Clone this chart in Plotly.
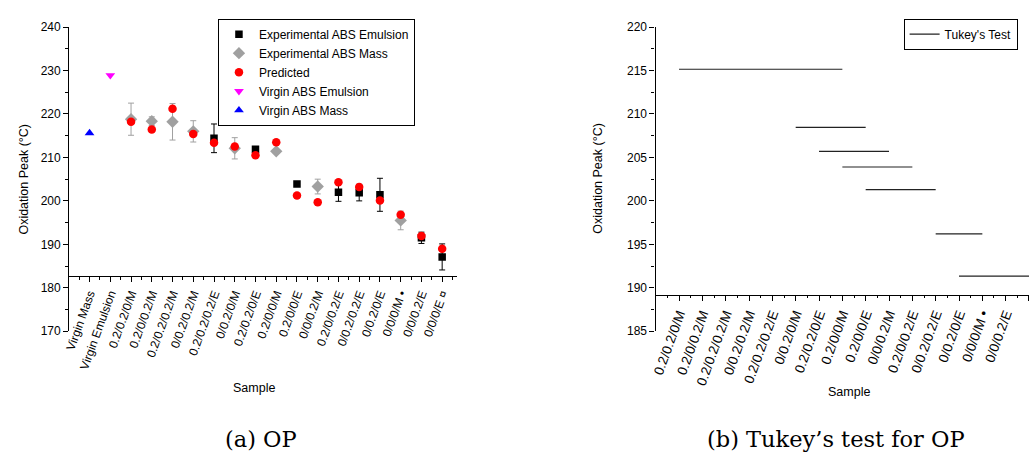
import plotly.graph_objects as go

W, H = 1029, 465

# ---------------- data (panel a) ----------------
categories_a = ["Virgin Mass", "Virgin Emulsion", "0.2/0.2/0/M", "0.2/0/0.2/M",
                "0.2/0.2/0.2/M", "0/0.2/0.2/M", "0.2/0.2/0.2/E", "0/0.2/0/M",
                "0.2/0.2/0/E", "0.2/0/0/M", "0.2/0/0/E", "0/0/0.2/M",
                "0.2/0/0.2/E", "0/0.2/0.2/E", "0/0.2/0/E", "0/0/0/M \u2022",
                "0/0/0.2/E", "0/0/0/E \u00a4"]

emulsion_samples = ["0.2/0.2/0.2/E", "0.2/0.2/0/E", "0.2/0/0/E", "0.2/0/0.2/E",
                    "0/0.2/0.2/E", "0/0.2/0/E", "0/0/0.2/E", "0/0/0/E \u00a4"]
emulsion_values = [214.4, 211.9, 203.9, 202.0, 201.9, 201.4, 191.5, 187.1]
emulsion_errors = [3.3, 0.5, 0.4, 2.1, 1.9, 3.8, 1.3, 3.0]

mass_samples = ["0.2/0.2/0/M", "0.2/0/0.2/M", "0.2/0.2/0.2/M", "0/0.2/0.2/M",
                "0/0.2/0/M", "0.2/0/0/M", "0/0/0.2/M", "0/0/0/M \u2022"]
mass_values = [218.8, 218.35, 218.2, 216.0, 212.1, 211.4, 203.3, 195.5]
mass_errors = [3.7, 1.0, 4.2, 2.45, 2.45, 0.5, 1.7, 2.15]

predicted_samples = categories_a[2:]
predicted_values = [218.2, 216.4, 221.2, 215.4, 213.4, 212.5, 210.5, 213.5,
                    201.25, 199.7, 204.3, 203.2, 200.1, 196.8, 191.9, 189.0]

virgin_emulsion_value = [228.9]
virgin_mass_value = [215.6]

# ---------------- data (panel b) ----------------
categories_b = categories_a[2:]
tukey_start = ["0.2/0.2/0/M", "0/0.2/0/M", "0.2/0.2/0/E", "0.2/0/0/M",
               "0.2/0/0/E", "0/0.2/0.2/E", "0/0.2/0/E"]
tukey_end = ["0.2/0/0/M", "0.2/0/0/E", "0/0/0.2/M", "0.2/0/0.2/E",
             "0/0.2/0.2/E", "0/0/0/M \u2022", "0/0/0/E \u00a4"]
tukey_values = [215.15, 208.45, 205.7, 203.9, 201.3, 196.2, 191.35]

# ---------------- helpers ----------------
pos_a = {c: i + 1 for i, c in enumerate(categories_a)}
pos_b = {c: i + 1 for i, c in enumerate(categories_b)}
FONT = "Liberation Sans, Arial, sans-serif"
SERIF = "DejaVu Serif, serif"
GREY = "#a0a0a0"


def px_x(p):
    return p / W


def px_y(p):
    return (H - p) / H


fig = go.Figure()

fig.add_trace(go.Scatter(
    x=[pos_a[s] for s in emulsion_samples], y=emulsion_values,
    mode="markers", name="Experimental ABS Emulsion",
    marker=dict(symbol="square", color="black", size=7.5),
    error_y=dict(type="data", array=emulsion_errors, color="black",
                 thickness=1, width=3),
    xaxis="x", yaxis="y", legend="legend"))

fig.add_trace(go.Scatter(
    x=[pos_a[s] for s in mass_samples], y=mass_values,
    mode="markers", name="Experimental ABS Mass",
    marker=dict(symbol="diamond", color=GREY, size=9.5),
    error_y=dict(type="data", array=mass_errors, color=GREY,
                 thickness=1, width=3),
    xaxis="x", yaxis="y", legend="legend"))

fig.add_trace(go.Scatter(
    x=[pos_a[s] for s in predicted_samples], y=predicted_values,
    mode="markers", name="Predicted",
    marker=dict(symbol="circle", color="red", size=8.5),
    xaxis="x", yaxis="y", legend="legend"))

fig.add_trace(go.Scatter(
    x=[pos_a["Virgin Emulsion"]], y=virgin_emulsion_value,
    mode="markers", name="Virgin ABS Emulsion",
    marker=dict(symbol="triangle-down", color="#ff00ff", size=8.5),
    xaxis="x", yaxis="y", legend="legend"))

fig.add_trace(go.Scatter(
    x=[pos_a["Virgin Mass"]], y=virgin_mass_value,
    mode="markers", name="Virgin ABS Mass",
    marker=dict(symbol="triangle-up", color="blue", size=8.5),
    xaxis="x", yaxis="y", legend="legend"))

for i, (s, e, v) in enumerate(zip(tukey_start, tukey_end, tukey_values)):
    fig.add_trace(go.Scatter(
        x=[pos_b[s], pos_b[e]], y=[v, v], mode="lines",
        name="Tukey's Test", showlegend=(i == 0),
        line=dict(color="#222222", width=1.2),
        xaxis="x2", yaxis="y2", legend="legend2"))

# ---------------- axes ----------------
ya_dom = [px_y(334.3), px_y(20.7)]
xa_dom = [px_x(63.5), px_x(453.9)]
xb_dom = [px_x(652.7), 1.0]

common_ax = dict(showline=True, linecolor="black", linewidth=1.2,
                 showgrid=False, zeroline=False, ticks="outside",
                 tickcolor="black", tickwidth=1)

fig.update_layout(
    xaxis=dict(domain=xa_dom, range=[-0.03, 18.7], anchor="free",
               position=px_y(277.3), tickvals=list(pos_a.values()),
               ticktext=categories_a, tickangle=-70, ticklen=5,
               tickfont=dict(family=FONT, size=12, color="black"),
               minor=dict(tickvals=[i + 0.5 for i in range(0, 19)],
                          ticks="outside", ticklen=2.5, tickcolor="black"),
               **common_ax),
    yaxis=dict(domain=ya_dom, range=[170, 240], anchor="free",
               position=xa_dom[0], dtick=10, ticklen=5,
               tickfont=dict(family=FONT, size=12, color="black"),
               minor=dict(dtick=5, ticks="outside", ticklen=3,
                          tickcolor="black"),
               **common_ax),
    xaxis2=dict(domain=xb_dom, range=[-0.05, 16.0], anchor="free",
                position=px_y(296.7), tickvals=list(pos_b.values()),
                ticktext=categories_b, tickangle=-70, ticklen=5,
                tickfont=dict(family=FONT, size=13.5, color="black"),
                minor=dict(tickvals=[i + 0.5 for i in range(0, 16)],
                           ticks="outside", ticklen=2.5, tickcolor="black"),
                **common_ax),
    yaxis2=dict(domain=ya_dom, range=[185, 220], anchor="free",
                position=xb_dom[0], dtick=5, ticklen=5,
                tickfont=dict(family=FONT, size=12, color="black"),
                minor=dict(dtick=2.5, ticks="outside", ticklen=3,
                           tickcolor="black"),
                **common_ax),
)

# ---------------- legends ----------------
fig.update_layout(
    legend=dict(x=px_x(214), y=px_y(12), xanchor="left", yanchor="top",
                bordercolor="black", borderwidth=1, bgcolor="white",
                itemwidth=30, entrywidth=190, entrywidthmode="pixels",
                font=dict(family=FONT, size=12, color="black"),
                tracegroupgap=0),
    legend2=dict(x=px_x(903), y=px_y(12), xanchor="left", yanchor="top",
                 bordercolor="black", borderwidth=1, bgcolor="white",
                 itemwidth=30, font=dict(family=FONT, size=12, color="black")),
)

# ---------------- titles / captions ----------------
ann = []
ann.append(dict(text="Oxidation Peak (\u00b0C)", x=px_x(19), y=px_y(177),
                textangle=-90, font=dict(family=FONT, size=12.5, color="black")))
ann.append(dict(text="Oxidation Peak (\u00b0C)", x=px_x(596), y=px_y(177),
                textangle=-90, font=dict(family=FONT, size=12.5, color="black")))
ann.append(dict(text="Sample", x=px_x(250), y=px_y(393),
                font=dict(family=FONT, size=12.5, color="black")))
ann.append(dict(text="Sample", x=px_x(848), y=px_y(397),
                font=dict(family=FONT, size=12.5, color="black")))
ann.append(dict(text="(a) OP", x=px_x(257), y=px_y(445),
                font=dict(family=SERIF, size=22.5, color="black")))
ann.append(dict(text="(b) Tukey\u2019s test for OP", x=px_x(835), y=px_y(445),
                font=dict(family=SERIF, size=22.5, color="black")))
for a in ann:
    a.update(xref="paper", yref="paper", showarrow=False,
             xanchor="center", yanchor="middle")

fig.update_layout(
    annotations=ann,
    width=W, height=H, margin=dict(l=0, r=0, t=0, b=0),
    paper_bgcolor="white", plot_bgcolor="white",
    showlegend=True, hovermode=False,
)

fig.write_html("out.html", include_plotlyjs=True, full_html=True,
               config=dict(displayModeBar=False))
